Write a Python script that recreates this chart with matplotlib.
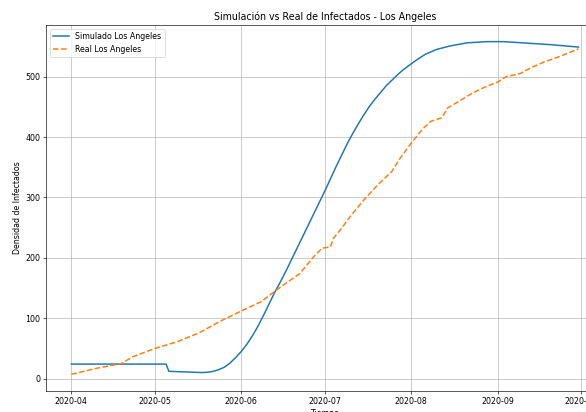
import pandas as pd
import matplotlib
matplotlib.use("Agg")
import matplotlib.pyplot as plt
import matplotlib.dates as mdates

# simulated curve (model output)
sim_dates = ["2020-04-01", "2020-05-05", "2020-05-06", "2020-05-12", "2020-05-18",
             "2020-05-20", "2020-05-22", "2020-05-24", "2020-05-26", "2020-05-28",
             "2020-05-30", "2020-06-01", "2020-06-03", "2020-06-05", "2020-06-07",
             "2020-06-09", "2020-06-11", "2020-06-13", "2020-06-15", "2020-06-17",
             "2020-06-19", "2020-06-21", "2020-06-23", "2020-06-25", "2020-06-27",
             "2020-06-29", "2020-07-01", "2020-07-03", "2020-07-05", "2020-07-07",
             "2020-07-09", "2020-07-11", "2020-07-13", "2020-07-15", "2020-07-17",
             "2020-07-19", "2020-07-21", "2020-07-23", "2020-07-25", "2020-07-27",
             "2020-07-29", "2020-07-31", "2020-08-03", "2020-08-06", "2020-08-10",
             "2020-08-15", "2020-08-21", "2020-08-28", "2020-09-03", "2020-09-10",
             "2020-09-20", "2020-09-30"]
sim_vals = [24, 24, 12, 11, 10,
            10.5, 12, 15, 19, 26,
            35, 45, 57, 71, 87,
            105, 124, 143, 160, 178,
            197, 216, 235, 254, 273,
            292, 311, 331, 351, 370,
            389, 406, 422, 437, 451,
            463, 474, 485, 494, 503,
            511, 518, 528, 537, 545,
            551, 556, 558, 558, 556,
            553, 549]

# reported cases
real_dates = ["2020-04-01", "2020-04-10", "2020-04-19", "2020-04-23", "2020-05-01",
              "2020-05-09", "2020-05-17", "2020-05-24", "2020-06-01", "2020-06-08",
              "2020-06-14", "2020-06-22", "2020-06-27", "2020-06-30", "2020-07-03",
              "2020-07-04", "2020-07-07", "2020-07-10", "2020-07-15", "2020-07-20",
              "2020-07-25", "2020-07-28", "2020-08-01", "2020-08-05", "2020-08-08",
              "2020-08-12", "2020-08-14", "2020-08-18", "2020-08-23", "2020-08-28",
              "2020-09-01", "2020-09-04", "2020-09-09", "2020-09-13", "2020-09-18",
              "2020-09-23", "2020-09-30"]
real_vals = [7, 17, 25, 36, 50,
             61, 76, 94, 112, 127,
             148, 174, 202, 216, 218,
             232, 249, 268, 296, 321,
             343, 365, 390, 413, 426,
             432, 448, 459, 473, 484,
             491, 500, 505, 515, 525,
             533, 546]

sim = pd.Series(sim_vals, index=pd.to_datetime(sim_dates))
real = pd.Series(real_vals, index=pd.to_datetime(real_dates))

fig = plt.figure(figsize=(586 / 57, 412 / 57), dpi=57)
ax = fig.add_axes([0.0785, 0.051, 0.952, 0.8883])
ax.plot(sim.index, sim.values, lw=1.9, label="Simulado Los Angeles")
ax.plot(real.index, real.values, "--", lw=1.9, label="Real Los Angeles")
ax.set_title("Simulación vs Real de Infectados - Los Angeles")
ax.set_xlabel("Tiempo")
ax.set_ylabel("Densidad de Infectados")
ax.xaxis.set_major_locator(mdates.MonthLocator())
ax.xaxis.set_major_formatter(mdates.DateFormatter("%Y-%m"))
ax.legend(loc="upper left")
ax.grid(True)
fig.savefig("out.png", dpi=57)
